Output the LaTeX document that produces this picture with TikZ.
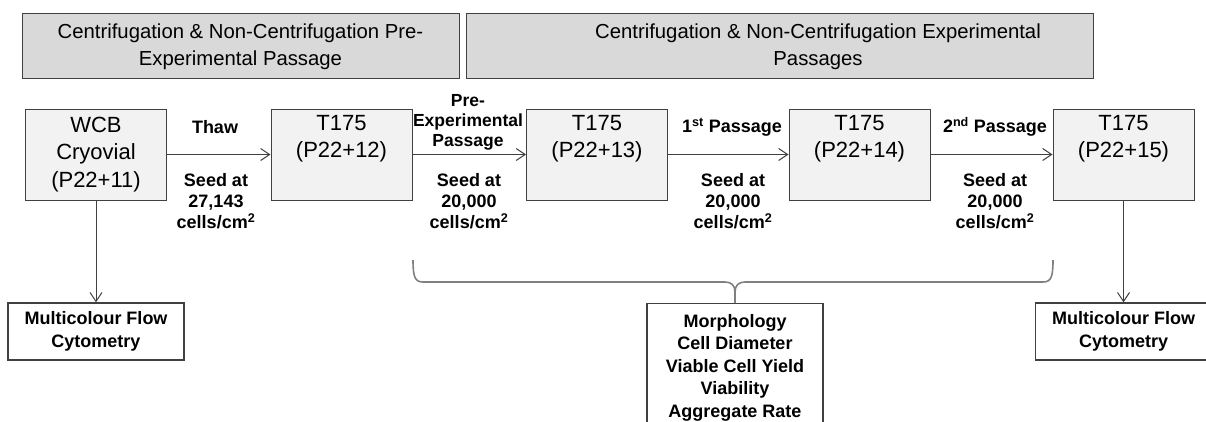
\documentclass[tikz,border=0pt]{standalone}
\usepackage{fontspec}
\setmainfont{Liberation Sans}
\usepackage{xcolor}
\usetikzlibrary{arrows.meta,positioning}

\definecolor{hdrgray}{HTML}{D9D9D9}
\definecolor{flaskgray}{HTML}{F2F2F2}
\definecolor{linegray}{HTML}{404040}
\definecolor{bracegray}{HTML}{808080}

\begin{document}
\begin{tikzpicture}[x=1pt,y=-1pt,
    hdr/.style={draw=linegray,fill=hdrgray,line width=1pt,minimum height=65pt,inner sep=0pt},
    hdrtext/.style={align=center,inner sep=0pt,font=\fontsize{20.3}{27.5}\selectfont},
    flask/.style={draw=linegray,fill=flaskgray,line width=1pt,minimum width=141pt,minimum height=91pt,
        inner sep=0pt,align=center,font=\fontsize{22}{27.5}\selectfont},
    lbl/.style={align=center,inner sep=0pt,font=\fontsize{18}{21}\selectfont\bfseries},
    assay/.style={draw=linegray,fill=white,line width=1.3pt,minimum width=176pt,inner sep=0pt,
        align=center,font=\fontsize{18}{22.5}\selectfont\bfseries},
    link/.style={draw=linegray,line width=1pt,-{Straight Barb[length=9pt,width=12pt]}},
    bracket/.style={draw=bracegray,line width=1.6pt}
]
    \useasboundingbox (0,0) rectangle (1206,421);

    % headers
    \node[hdr,minimum width=437pt] (hdrpre) at (240.5,45.5) {};
    \node[hdrtext] (hdrpretext) at (240.5,46.5) {
        Centrifugation \& Non-Centrifugation Pre-\\Experimental Passage
    };
    \node[hdr,minimum width=627pt] (hdrexp) at (779.5,45.5) {};
    \node[hdrtext] (hdrexptext) at (818,46.5) {
        Centrifugation \& Non-Centrifugation Experimental\\Passages
    };

    % flasks
    \node[flask] (wcb) at (96,154.5) {
        WCB\\Cryovial\\(P22+11)
    };
    \node[flask] (t12) at (341.5,154.5) {
        T175\\(P22+12)\\\strut
    };
    \node[flask] (t13) at (597,154.5) {
        T175\\(P22+13)\\\strut
    };
    \node[flask] (t14) at (859.5,154.5) {
        T175\\(P22+14)\\\strut
    };
    \node[flask] (t15) at (1123.5,154.5) {
        T175\\(P22+15)\\\strut
    };

    % arrow labels
    \node[lbl] (thaw) at (215,127) {Thaw};
    \node[lbl] (seeda) at (216,201) {Seed at\\27,143\\cells/cm\textsuperscript{2}};
    \node[lbl,font=\fontsize{17.5}{20}\selectfont\bfseries] (prep) at (468,122) {Pre-\\Experimental\\Passage};
    \node[lbl] (seedb) at (469,201) {Seed at\\20,000\\cells/cm\textsuperscript{2}};
    \node[lbl] (first) at (732,127) {1\textsuperscript{st} Passage};
    \node[lbl] (seedc) at (733,201) {Seed at\\20,000\\cells/cm\textsuperscript{2}};
    \node[lbl] (second) at (995,127) {2\textsuperscript{nd} Passage};
    \node[lbl] (seedd) at (995,201) {Seed at\\20,000\\cells/cm\textsuperscript{2}};

    % read-outs
    \node[assay,minimum height=57pt] (mfcleft) at (96,331.5) {
        Multicolour Flow\\Cytometry
    };
    \node[assay,minimum height=57pt] (mfcright) at (1123.5,331.5) {
        Multicolour Flow\\Cytometry
    };
    \node[assay,anchor=north,inner ysep=10.5pt] (metrics) at (735,303) {
        Morphology\\Cell Diameter\\Viable Cell Yield\\Viability\\Aggregate Rate
    };

    \draw[link] (wcb) to (t12);
    \draw[link] (t12) to (t13);
    \draw[link] (t13) to (t14);
    \draw[link] (t14) to (t15);
    \draw[link] (wcb) to (mfcleft);
    \draw[link] (t15) to (mfcright);

    % brace over the passages
    \coordinate (bracel) at (413,260);
    \coordinate (bracer) at (1053,260);
    \draw[bracket] (bracel) .. controls (413,277) and (415,282) .. (423,282) -- (725,282)
        .. controls (731,282) and (735,285) .. (735,292) -- (metrics.north);
    \draw[bracket] (bracer) .. controls (1053,277) and (1051,282) .. (1043,282) -- (745,282)
        .. controls (739,282) and (735,285) .. (735,292);
\end{tikzpicture}
\end{document}
